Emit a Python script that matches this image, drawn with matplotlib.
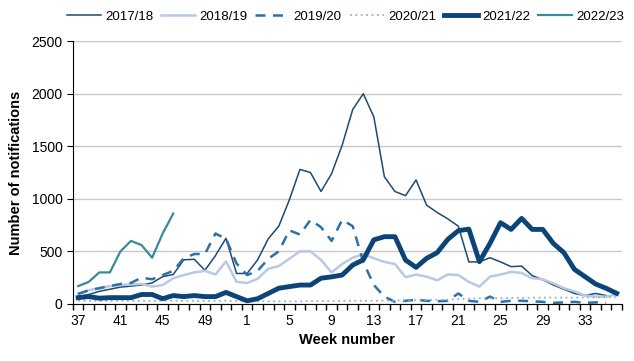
import matplotlib.pyplot as plt
import numpy as np

plt.rcParams['font.family'] = ['Liberation Sans', 'DejaVu Sans']

# week order of a season: 37..52 then 1..36
weeks = list(range(37, 53)) + list(range(1, 37))
tick_weeks = [37, 41, 45, 49, 1, 5, 9, 13, 17, 21, 25, 29, 33]

s2017 = [70, 90, 120, 140, 160, 170, 180, 200, 260, 280, 420, 425, 320, 460, 625, 290,
         290, 420, 620, 740, 990, 1280, 1250, 1070, 1240, 1510, 1850, 2000, 1780, 1210,
         1070, 1030, 1180, 940, 870, 810, 740, 400, 400, 440, 400, 355, 360, 270, 230,
         180, 140, 100, 80, 100, 80]
s2018 = [100, 130, 150, 170, 180, 185, 190, 165, 180, 245, 275, 300, 315, 280, 405, 210,
         200, 240, 335, 360, 430, 500, 500, 420, 300, 380, 440, 475, 435, 400, 380, 255,
         280, 260, 225, 280, 275, 210, 165, 260, 280, 305, 295, 245, 235, 195, 150, 120,
         80, 70, 70, 90]
s2019 = [95, 130, 150, 170, 190, 200, 250, 235, 275, 315, 435, 475, 475, 670, 620, 385,
         275, 315, 430, 500, 700, 660, 800, 730, 600, 800, 740, 400, 180, 70, 20, 30,
         40, 30, 25, 30, 100, 30, 20, 70, 20, 30, 30, 25, 20, 10, 15, 20, 10, 15, 10]
s2020 = [30, 30, 28, 30, 32, 30, 30, 28, 30, 32, 30, 30, 28, 30, 30, 28,
         25, 25, 25, 25, 25, 25, 28, 28, 28, 30, 30, 30, 30, 32, 32, 35,
         35, 38, 40, 40, 45, 50, 55, 55, 55, 58, 58, 60, 60, 60, 60, 60,
         62, 62, 65, 65]
s2021 = [60, 70, 55, 60, 60, 60, 90, 90, 50, 80, 70, 80, 70, 70, 110, 70,
         30, 50, 100, 150, 165, 180, 180, 245, 258, 275, 370, 420, 610, 640, 640, 418,
         348, 434, 488, 614, 697, 712, 402, 576, 773, 709, 814, 709, 709, 576, 488, 329,
         260, 190, 149, 101]
s2022 = [170, 210, 300, 300, 500, 600, 560, 440, 670, 860]

fig = plt.figure(figsize=(6.34, 3.61), dpi=100)
ax = fig.add_axes([0.115, 0.158, 0.866, 0.728])

ax.plot(range(len(s2017)), s2017, color='#1d4a73', lw=1.1, label='2017/18')
ax.plot(range(len(s2018)), s2018, color='#b9c9e3', lw=1.8, label='2018/19')
ax.plot(range(len(s2019)), s2019, color='#2f6fa8', lw=1.8, ls=(0, (4, 3)), label='2019/20')
ax.plot(range(len(s2020)), s2020, color='#8fb0cf', lw=1.3, ls=(0, (1, 2)), label='2020/21')
ax.plot(range(len(s2021)), s2021, color='#0d4478', lw=3.5, label='2021/22')
ax.plot(range(len(s2022)), s2022, color='#3a8a9e', lw=1.6, label='2022/23')

ax.set_xlim(-0.5, 51.5)
ax.set_ylim(0, 2500)
ax.set_yticks(np.arange(0, 2501, 500))
ax.grid(axis='y', color='#c8c8c8', lw=1)
ax.set_axisbelow(True)

ax.set_xticks([weeks.index(w) for w in tick_weeks])
ax.set_xticklabels([str(w) for w in tick_weeks])
ax.set_xticks(np.arange(-0.5, 52, 1), minor=True)
ax.tick_params(axis='x', which='major', length=0, pad=7, labelsize=10)
ax.tick_params(axis='x', which='minor', length=4, width=1, direction='out', color='black')
ax.tick_params(axis='y', length=4, labelsize=10, direction='out')
for s in ['top', 'right']:
    ax.spines[s].set_visible(False)
for s in ['left', 'bottom']:
    ax.spines[s].set_color('black')

ax.set_ylabel('Number of notifications', fontsize=10.5, fontweight='bold', labelpad=6)
ax.set_xlabel('Week number', fontsize=10.5, fontweight='bold', labelpad=4)

fig.legend(loc='center', bbox_to_anchor=(0.545, 0.953), ncol=6, frameon=False,
           fontsize=9.5, handlelength=2.6, columnspacing=0.6, handletextpad=0.3)

fig.savefig('out.png', dpi=100)
